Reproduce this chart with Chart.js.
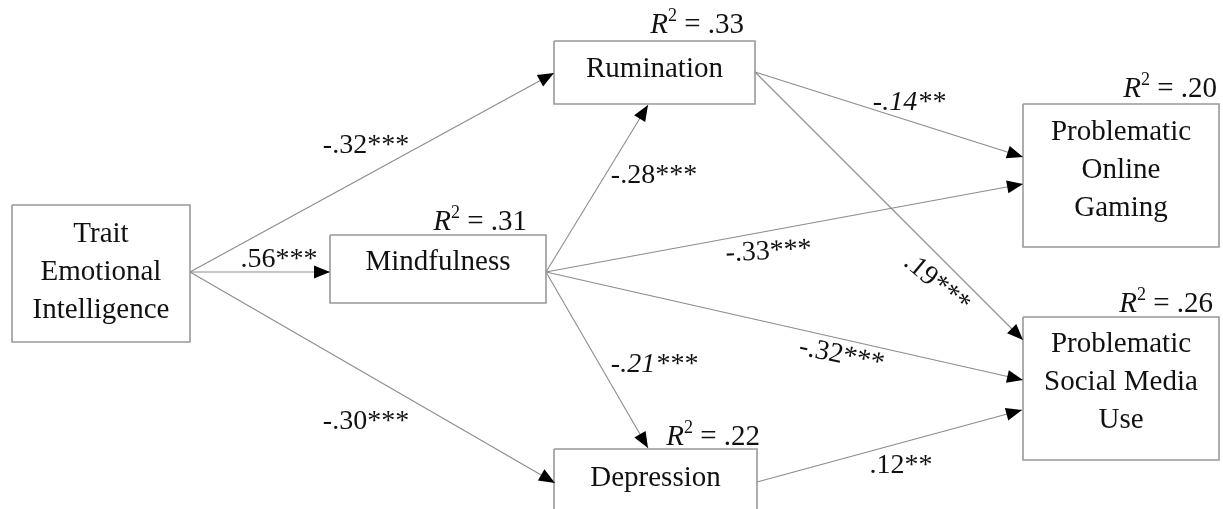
<!DOCTYPE html>
<html>
<head>
<meta charset="utf-8">
<script src="https://cdn.jsdelivr.net/npm/chart.js@4.4.1/dist/chart.umd.min.js"></script>
<style>
  html, body { margin: 0; padding: 0; background: #ffffff; }
  #wrap { width: 1223px; height: 509px; }
</style>
</head>
<body>
<div id="wrap"><canvas id="c" width="1223" height="509"></canvas></div>
<script>
// ---------- DATA ----------
const nodeNames = ['Trait\nEmotional\nIntelligence', 'Mindfulness', 'Rumination', 'Depression',
                   'Problematic\nOnline\nGaming', 'Problematic\nSocial Media\nUse'];
const r2Values = [null, 0.31, 0.33, 0.22, 0.20, 0.26];
const pathFrom = [0, 0, 0, 1, 1, 1, 1, 2, 2, 3];
const pathTo   = [2, 1, 3, 2, 3, 4, 5, 4, 5, 5];
const pathCoef = [-0.32, 0.56, -0.30, -0.28, -0.21, -0.33, -0.32, -0.14, 0.19, 0.12];
const pathStars = [3, 3, 3, 3, 3, 3, 3, 2, 3, 2];

// ---------- LAYOUT (diagram coordinates, px units of the 1223x509 frame) ----------
const boxes = [[12,205,190,342],[330,235,546,303],[554,41,755,104],[554,449,757,515],[1023,104,1219,247],[1023,317,1219,460]];
const nodeTextY = [242, 270, 77, 486, 140, 352];
const lineHeight = 38;
const r2Pos = [null, [527,230], [744,33], [760,445], [1217,97], [1213,312]];
const pathStart = [[190,272],[190,272],[190,272],[546,272],[546,272],[546,272],[546,272],[755,72],[755,72],[757,482]];
const pathEnd   = [[554,73],[330,272],[555,483],[648,105],[648,448],[1023,184],[1023,380],[1023,157],[1023,340],[1022,410]];
const labelPos  = [[366,153,0,false],[279,267,0,false],[366,429,0,false],[654,183,0,false],[654,372,0,true],
                   [769,259,-3,false],[840,363,12,false],[909,110,0,true],[932,289,40,false],[901,473,0,false]];

const FONT = '"Liberation Serif", "Times New Roman", serif';
const fmt = v => (v < 0 ? '-' : '') + Math.abs(v).toFixed(2).replace(/^0/, '');

// ---------- datasets ----------
const datasets = [];
boxes.forEach(b => {
  datasets.push({
    data: [{x:b[0],y:b[1]},{x:b[2],y:b[1]},{x:b[2],y:b[3]},{x:b[0],y:b[3]},{x:b[0],y:b[1]}],
    showLine: true, borderColor: '#999999', borderWidth: 1.6, pointRadius: 0, fill: false, tension: 0
  });
});
pathFrom.forEach((f, i) => {
  datasets.push({
    data: [{x:pathStart[i][0],y:pathStart[i][1]},{x:pathEnd[i][0],y:pathEnd[i][1]}],
    showLine: true, borderColor: '#8c8c8c', borderWidth: 1.1, pointRadius: 0, fill: false
  });
});

const diagramPlugin = {
  id: 'diagram',
  afterDatasetsDraw(chart) {
    const ctx = chart.ctx, xs = chart.scales.x, ys = chart.scales.y;
    const px = v => xs.getPixelForValue(v), py = v => ys.getPixelForValue(v);
    ctx.save();
    // arrowheads
    pathFrom.forEach((f, i) => {
      const x0 = px(pathStart[i][0]), y0 = py(pathStart[i][1]);
      const x1 = px(pathEnd[i][0]), y1 = py(pathEnd[i][1]);
      const a = Math.atan2(y1 - y0, x1 - x0);
      const L = 16, W = 6.5;
      ctx.beginPath();
      ctx.moveTo(x1, y1);
      ctx.lineTo(x1 - L*Math.cos(a) + W*Math.sin(a), y1 - L*Math.sin(a) - W*Math.cos(a));
      ctx.lineTo(x1 - L*Math.cos(a) - W*Math.sin(a), y1 - L*Math.sin(a) + W*Math.cos(a));
      ctx.closePath();
      ctx.fillStyle = '#000';
      ctx.fill();
    });
    // node texts
    ctx.fillStyle = '#111';
    ctx.textAlign = 'center';
    ctx.textBaseline = 'alphabetic';
    ctx.font = '29px ' + FONT;
    nodeNames.forEach((n, i) => {
      const b = boxes[i];
      const cx = px((b[0] + b[2]) / 2);
      n.split('\n').forEach((ln, k) => ctx.fillText(ln, cx, py(nodeTextY[i] + k*lineHeight)));
    });
    // R2 labels
    r2Values.forEach((v, i) => {
      if (v == null) return;
      const rx = px(r2Pos[i][0]), by = py(r2Pos[i][1]);
      const rest = ' = ' + fmt(v);
      ctx.font = '29px ' + FONT;
      const wRest = ctx.measureText(rest).width;
      ctx.font = '18px ' + FONT;
      const wSup = ctx.measureText('2').width;
      ctx.font = 'italic 29px ' + FONT;
      const wR = ctx.measureText('R').width;
      let x = rx - wRest - wSup - wR;
      ctx.textAlign = 'left';
      ctx.fillText('R', x, by); x += wR;
      ctx.font = '18px ' + FONT;
      ctx.fillText('2', x, by - 12); x += wSup;
      ctx.font = '29px ' + FONT;
      ctx.fillText(rest, x, by);
    });
    // path coefficient labels
    ctx.textAlign = 'center';
    pathCoef.forEach((c, i) => {
      const p = labelPos[i];
      ctx.save();
      ctx.translate(px(p[0]), py(p[1]));
      ctx.rotate(p[2] * Math.PI / 180);
      ctx.font = (p[3] ? 'italic ' : '') + '28px ' + FONT;
      ctx.fillText(fmt(c) + '*'.repeat(pathStars[i]), 0, 0);
      ctx.restore();
    });
    ctx.restore();
  }
};

new Chart(document.getElementById('c'), {
  type: 'scatter',
  data: { datasets },
  options: {
    responsive: false,
    animation: false,
    layout: { padding: 0 },
    plugins: { legend: { display: false }, tooltip: { enabled: false } },
    scales: {
      x: { type: 'linear', min: 0, max: 1223, display: false },
      y: { type: 'linear', min: 0, max: 509, reverse: true, display: false }
    }
  },
  plugins: [diagramPlugin]
});
</script>
</body>
</html>
